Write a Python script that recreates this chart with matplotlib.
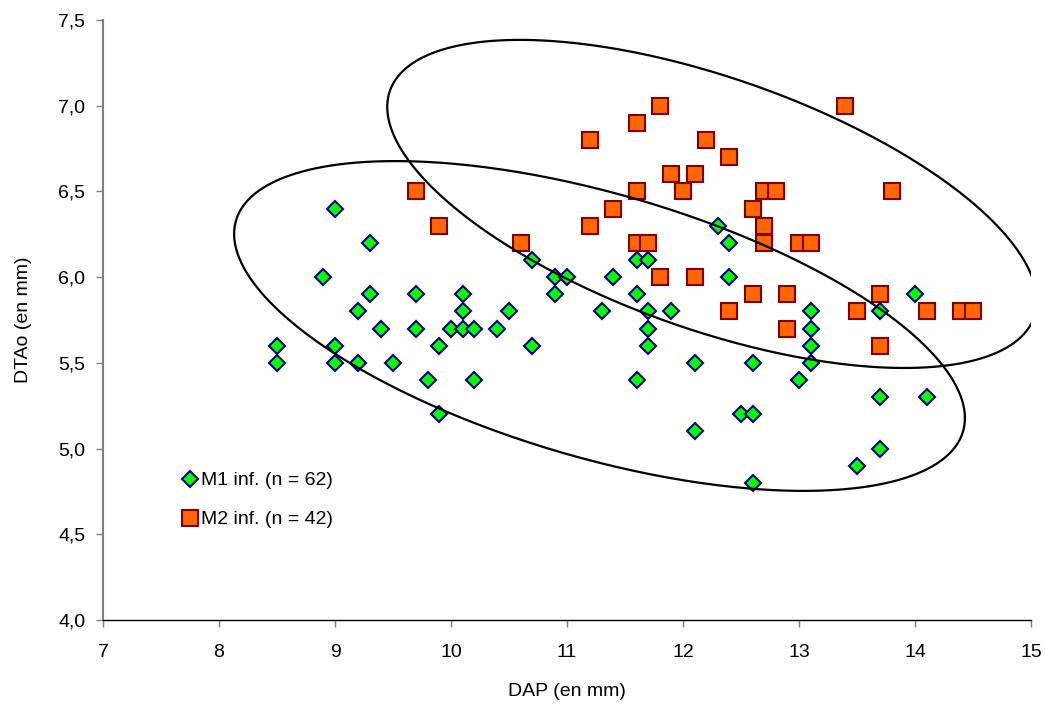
import numpy as np
import matplotlib
matplotlib.use('Agg')
import matplotlib.pyplot as plt
from matplotlib.ticker import FuncFormatter

plt.rcParams['font.family'] = ['Liberation Sans', 'DejaVu Sans']

# M1 inf. (green diamonds)
m1_x = [8.5, 8.5, 8.9, 9.0, 9.0, 9.0, 9.2, 9.2, 9.3, 9.3,
        9.4, 9.5, 9.7, 9.7, 9.8, 9.9, 9.9, 10.0, 10.1, 10.1,
        10.1, 10.2, 10.2, 10.4, 10.5, 10.7, 10.7, 10.9, 10.9, 11.0,
        11.3, 11.4, 11.6, 11.6, 11.6, 11.7, 11.7, 11.7, 11.7, 11.9,
        12.1, 12.1, 12.3, 12.4, 12.4, 12.5, 12.6, 12.6, 12.6, 13.0,
        13.1, 13.1, 13.1, 13.1, 13.5, 13.7, 13.7, 13.7, 14.0, 14.1]
m1_y = [5.6, 5.5, 6.0, 6.4, 5.6, 5.5, 5.8, 5.5, 6.2, 5.9,
        5.7, 5.5, 5.9, 5.7, 5.4, 5.6, 5.2, 5.7, 5.9, 5.8,
        5.7, 5.7, 5.4, 5.7, 5.8, 6.1, 5.6, 6.0, 5.9, 6.0,
        5.8, 6.0, 6.1, 5.9, 5.4, 6.1, 5.8, 5.7, 5.6, 5.8,
        5.5, 5.1, 6.3, 6.2, 6.0, 5.2, 5.5, 5.2, 4.8, 5.4,
        5.8, 5.7, 5.6, 5.5, 4.9, 5.8, 5.3, 5.0, 5.9, 5.3]

# M2 inf. (orange squares)
m2_x = [9.7, 9.9, 10.6, 11.2, 11.2, 11.4, 11.6, 11.6, 11.6, 11.7,
        11.8, 11.8, 11.9, 12.0, 12.1, 12.1, 12.2, 12.4, 12.4, 12.6,
        12.6, 12.7, 12.7, 12.7, 12.8, 12.9, 12.9, 13.0, 13.1, 13.4,
        13.5, 13.7, 13.7, 13.8, 14.1, 14.4, 14.5]
m2_y = [6.5, 6.3, 6.2, 6.8, 6.3, 6.4, 6.9, 6.5, 6.2, 6.2,
        7.0, 6.0, 6.6, 6.5, 6.6, 6.0, 6.8, 6.7, 5.8, 6.4,
        5.9, 6.5, 6.3, 6.2, 6.5, 5.9, 5.7, 6.2, 6.2, 7.0,
        5.8, 5.9, 5.6, 6.5, 5.8, 5.8, 5.8]

# hand-drawn ellipses: centre, half width, y offset of right-most point, half height
ell1 = (11.28, 5.715, 3.15, -0.537, 0.962)
ell2 = (12.25, 6.427, 2.80, -0.566, 0.957)


def ellipse_xy(cx, cy, w, dyr, hh):
    t = np.linspace(0, 2 * np.pi, 400)
    h = np.sqrt(hh ** 2 - dyr ** 2)
    return cx + w * np.cos(t), cy + dyr * np.cos(t) + h * np.sin(t)


fig = plt.figure(figsize=(10.46, 7.07), dpi=100)
ax = fig.add_axes([0.0985, 0.1231, 0.8872, 0.8486])

ax.plot(m2_x, m2_y, linestyle='', marker='s', markersize=11.3,
        markerfacecolor='#FF6600', markeredgecolor='#800000',
        markeredgewidth=1.5, label='M2 inf. (n = 42)', zorder=3)
ax.plot(m1_x, m1_y, linestyle='', marker='D', markersize=8.0,
        markerfacecolor='#00FF00', markeredgecolor='#000080',
        markeredgewidth=1.5, label='M1 inf. (n = 62)', zorder=4)

for e in (ell1, ell2):
    ex, ey = ellipse_xy(*e)
    ax.plot(ex, ey, color='k', linewidth=1.6, zorder=5)

ax.set_xlim(7, 15)
ax.set_ylim(4.0, 7.5)
ax.set_xticks(np.arange(7, 16, 1))
ax.set_yticks(np.arange(4.0, 7.51, 0.5))
ax.yaxis.set_major_formatter(FuncFormatter(lambda v, p: ('%.1f' % v).replace('.', ',')))

for s in ('top', 'right'):
    ax.spines[s].set_visible(False)
ax.spines['left'].set_color('#808080')
ax.spines['left'].set_linewidth(1.5)
ax.spines['bottom'].set_color('black')
ax.spines['bottom'].set_linewidth(1.0)
ax.tick_params(axis='y', colors='#808080', labelcolor='black', length=4.7, width=1.0,
               labelsize=14, pad=8)
ax.tick_params(axis='x', colors='#808080', labelcolor='black', length=4.7, width=1.0,
               labelsize=14, pad=12.5)

ax.set_xlabel('DAP (en mm)', fontsize=14, labelpad=16)
ax.set_ylabel('DTAo (en mm)', fontsize=14, labelpad=19)

h, l = ax.get_legend_handles_labels()
ax.legend(h[::-1], l[::-1], loc='upper left', bbox_to_anchor=(0.085, 0.247),
          frameon=False, fontsize=14, handletextpad=0.2, handlelength=0.8,
          labelspacing=1.1, borderpad=0, borderaxespad=0)

fig.savefig('out.png', dpi=100)
